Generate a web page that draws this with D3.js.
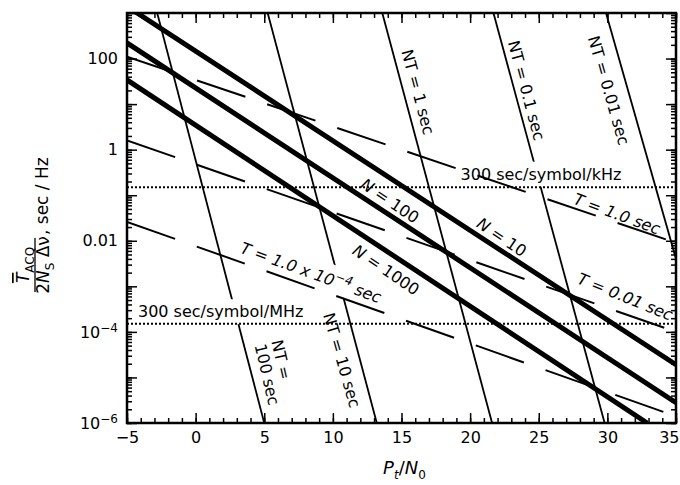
<!DOCTYPE html>
<html>
<head>
<meta charset="utf-8">
<script src="https://cdn.jsdelivr.net/npm/d3@7"></script>
<style>
  body { margin: 0; background: #fff; }
  text { font-family: "DejaVu Sans", sans-serif; fill: #000; }
</style>
</head>
<body>
<script>
// axes: Pt/N0 (dB) against Tacq/(2 Ns dv) (sec/Hz)
var xDomain = [-5, 35];
var yDomain = [1e-6, 1e3];
var xMajor = [-5, 0, 5, 10, 15, 20, 25, 30, 35];
var yLabelled = [1e-6, 1e-4, 1e-2, 1, 100];

// thick lines, constant N (end points)
var nNames = ["N = 10", "N = 100", "N = 1000"];
var nLines = [
  [[-5, 1400], [35, 1.9e-5]],
  [[-5, 220], [35, 2.8e-6]],
  [[-5, 34], [32.9, 1e-6]]
];

// thin lines, constant NT
var ntNames = ["100 sec", "10 sec", "1 sec", "0.1 sec", "0.01 sec"];
var ntLines = [
  [[-2.8, 1000], [5.0, 1e-6]],
  [[5.25, 1000], [13.2, 1e-6]],
  [[13.6, 1000], [21.6, 1e-6]],
  [[21.7, 1000], [29.8, 1e-6]],
  [[29.9, 1000], [35, 0.004]]
];

// dashed lines, constant T
var tNames = ["1.0 sec", "0.01 sec", "1.0 x 10^-4 sec"];
var tLines = [
  [[-5, 110], [35, 0.009]],
  [[-5, 1.6], [35, 1e-4]],
  [[-5, 0.026], [35, 1.4e-6]]
];

// dotted reference levels
var refNames = ["300 sec/symbol/kHz", "300 sec/symbol/MHz"];
var refLevels = [0.15, 1.5e-4];

// annotations: rows of [text, style], anchor point in data units
var labels = [
  {rows: [[["NT = 1 sec"]]], at: [16.2, 18.4], angle: 75},
  {rows: [[["NT = 0.1 sec"]]], at: [24.1, 20], angle: 75},
  {rows: [[["NT = 0.01 sec"]]], at: [30.1, 20], angle: 74},
  {rows: [[["NT = 10 sec"]]], at: [10.65, 2.4e-5], angle: 74},
  {rows: [[["NT ="]], [["100 sec"]]], at: [5.3, 6e-5], angle: 77, anchor: "start"},
  {rows: [[["N", "i"], [" = 100"]]], at: [14.16, 0.075], angle: 34},
  {rows: [[["N", "i"], [" = 10"]]], at: [22.3, 0.012], angle: 34},
  {rows: [[["N", "i"], [" = 1000"]]], at: [13.87, 0.0023], angle: 34},
  {rows: [[["T = 1.0 x 10", "i"], ["\u22124", "sup"], [" sec", "i"]]], at: [8.4, 0.002], angle: 20, knock: true},
  {rows: [[["T = 1.0 sec", "i"]]], at: [30.7, 0.039], angle: 20},
  {rows: [[["T = 0.01 sec", "i"]]], at: [31.3, 5.9e-4], angle: 22},
  {rows: [[["300 sec/symbol/kHz"]]], at: [19.3, 0.22], angle: 0, anchor: "start", knock: true, base: true},
  {rows: [[["300 sec/symbol/MHz"]]], at: [-4.2, 2.1e-4], angle: 0, anchor: "start", knock: true, base: true}
];

var W = 680, H = 485;
var plot = {left: 127, right: 676, top: 13, bottom: 423};

var x = d3.scaleLinear().domain(xDomain).range([plot.left, plot.right]);
var y = d3.scaleLog().domain(yDomain).range([plot.bottom, plot.top]);

var svg = d3.select("body").append("svg")
  .attr("width", W)
  .attr("height", H);

svg.append("rect").attr("width", W).attr("height", H).attr("fill", "#fff");

svg.append("clipPath").attr("id", "clip")
  .append("rect")
  .attr("x", plot.left).attr("y", plot.top)
  .attr("width", plot.right - plot.left)
  .attr("height", plot.bottom - plot.top);

var line = d3.line().x(d => x(d[0])).y(d => y(d[1]));

var lines = svg.append("g").attr("clip-path", "url(#clip)");
var gNT = lines.append("g");
var gKnock = lines.append("g");
var gRef = lines.append("g");
var gT = lines.append("g");
var gN = lines.append("g");

gNT.selectAll("path").data(ntLines).enter().append("path")
  .attr("d", line)
  .attr("fill", "none")
  .attr("stroke", "#000")
  .attr("stroke-width", 1.8);

gRef.selectAll("path").data(refLevels).enter().append("path")
  .attr("d", v => line([[xDomain[0], v], [xDomain[1], v]]))
  .attr("fill", "none")
  .attr("stroke", "#000")
  .attr("stroke-width", 2)
  .attr("stroke-dasharray", "2,2");

gT.selectAll("path").data(tLines).enter().append("path")
  .attr("d", line)
  .attr("fill", "none")
  .attr("stroke", "#000")
  .attr("stroke-width", 2)
  .attr("stroke-dasharray", "51,23");

gN.selectAll("path").data(nLines).enter().append("path")
  .attr("d", line)
  .attr("fill", "none")
  .attr("stroke", "#000")
  .attr("stroke-width", 5);

// ticks, all pointing inwards
function tickGroup(axis, tf) {
  var g = svg.append("g").attr("transform", tf).call(axis);
  g.select(".domain").remove();
  g.selectAll(".tick line").attr("stroke-width", 1.5);
  g.selectAll(".tick text").attr("font-size", 16).attr("font-family", "DejaVu Sans");
  return g;
}

var xMinor = d3.range(xDomain[0], xDomain[1] + 1, 1);
var yAll = y.ticks();
var yDecades = yAll.filter(d => Math.abs(Math.log10(d) - Math.round(Math.log10(d))) < 1e-9);

var bottomT = "translate(0," + plot.bottom + ")";
var topT = "translate(0," + plot.top + ")";
var leftT = "translate(" + plot.left + ",0)";
var rightT = "translate(" + plot.right + ",0)";

tickGroup(d3.axisBottom(x).tickValues(xMinor).tickSize(-5).tickFormat(""), bottomT);
var gx = tickGroup(d3.axisBottom(x).tickValues(xMajor).tickSize(-10).tickPadding(9).tickFormat(d3.format("d")), bottomT);
tickGroup(d3.axisTop(x).tickValues(xMinor).tickSize(-5).tickFormat(""), topT);
tickGroup(d3.axisTop(x).tickValues(xMajor).tickSize(-10).tickFormat(""), topT);

// last label sits just inside the page edge
gx.selectAll(".tick text").filter(d => d === xDomain[1])
  .attr("text-anchor", "end").attr("dx", 3);

tickGroup(d3.axisLeft(y).tickValues(yAll).tickSize(-5).tickFormat(""), leftT);
var gy = tickGroup(d3.axisLeft(y).tickValues(yDecades).tickSize(-10).tickPadding(9)
  .tickFormat(d => yLabelled.indexOf(d) >= 0 ? d : ""), leftT);
tickGroup(d3.axisRight(y).tickValues(yAll).tickSize(-5).tickFormat(""), rightT);
tickGroup(d3.axisRight(y).tickValues(yDecades).tickSize(-10).tickFormat(""), rightT);

gy.selectAll(".tick text").each(function(d) {
  if (yLabelled.indexOf(d) < 0) return;
  var e = Math.round(Math.log10(d));
  var t = d3.select(this).text("");
  if (e < -2) {
    t.append("tspan").text("10");
    t.append("tspan").attr("dy", "-0.45em").attr("font-size", 12).text("\u2212" + (-e));
  } else {
    t.text(d3.format("~g")(d));
  }
});

svg.append("rect")
  .attr("x", plot.left).attr("y", plot.top)
  .attr("width", plot.right - plot.left)
  .attr("height", plot.bottom - plot.top)
  .attr("fill", "none")
  .attr("stroke", "#000")
  .attr("stroke-width", 2.5);

// write parts into a text element
function fillText(t, parts) {
  var shift = 0;
  parts.forEach(function(p) {
    var s = t.append("tspan").text(p[0]);
    var st = p[1] || "";
    var want = 0;
    if (st.indexOf("i") >= 0) s.attr("font-style", "italic");
    if (st === "sup") { want = -7; s.attr("font-size", 12).attr("font-style", "italic"); }
    if (st === "sub" || st === "isub") { want = 5; s.attr("font-size", 12); }
    if (st === "isub") s.attr("font-style", "italic");
    if (st === "over") s.attr("font-style", "italic").style("text-decoration", "overline");
    if (want !== shift) { s.attr("dy", want - shift); shift = want; }
  });
}

var gLab = svg.append("g");
labels.forEach(function(L) {
  var tf = "translate(" + x(L.at[0]) + "," + y(L.at[1]) + ") rotate(" + L.angle + ")";
  var g = gLab.append("g").attr("transform", tf);
  var n = L.rows.length;
  L.rows.forEach(function(r, i) {
    var t = g.append("text")
      .attr("font-size", 16)
      .attr("text-anchor", L.anchor || "middle")
      .attr("y", (i - (n - 1) / 2) * 17)
      .attr("dy", L.base ? 0 : "0.35em");
    fillText(t, r);
  });
  if (L.knock) {
    var b = g.node().getBBox();
    gKnock.append("rect")
      .attr("transform", tf)
      .attr("x", b.x - 2).attr("y", b.y - 3)
      .attr("width", b.width + 4).attr("height", b.height + 6)
      .attr("fill", "#fff");
  }
});

// axis titles
var xt = svg.append("text")
  .attr("x", (plot.left + plot.right) / 2 + 3)
  .attr("y", 474)
  .attr("text-anchor", "middle")
  .attr("font-size", 18);
fillText(xt, [["P", "i"], ["t", "isub"], ["/"], ["N", "i"], ["0", "sub"]]);

var yt = svg.append("g").attr("transform", "translate(35,265) rotate(-90)");
yt.append("line")
  .attr("x1", -27).attr("x2", 27)
  .attr("stroke", "#000").attr("stroke-width", 1.3);
var num = yt.append("text").attr("text-anchor", "middle").attr("y", -6).attr("font-size", 17);
fillText(num, [["T", "over"], ["ACQ", "sub"]]);
var den = yt.append("text").attr("text-anchor", "middle").attr("y", 14).attr("font-size", 17);
fillText(den, [["2"], ["N", "i"], ["S", "sub"], [" \u0394\u03bd"]]);
yt.append("text").attr("x", 30).attr("y", 13).attr("font-size", 17).text(", sec / Hz");
</script>
</body>
</html>
